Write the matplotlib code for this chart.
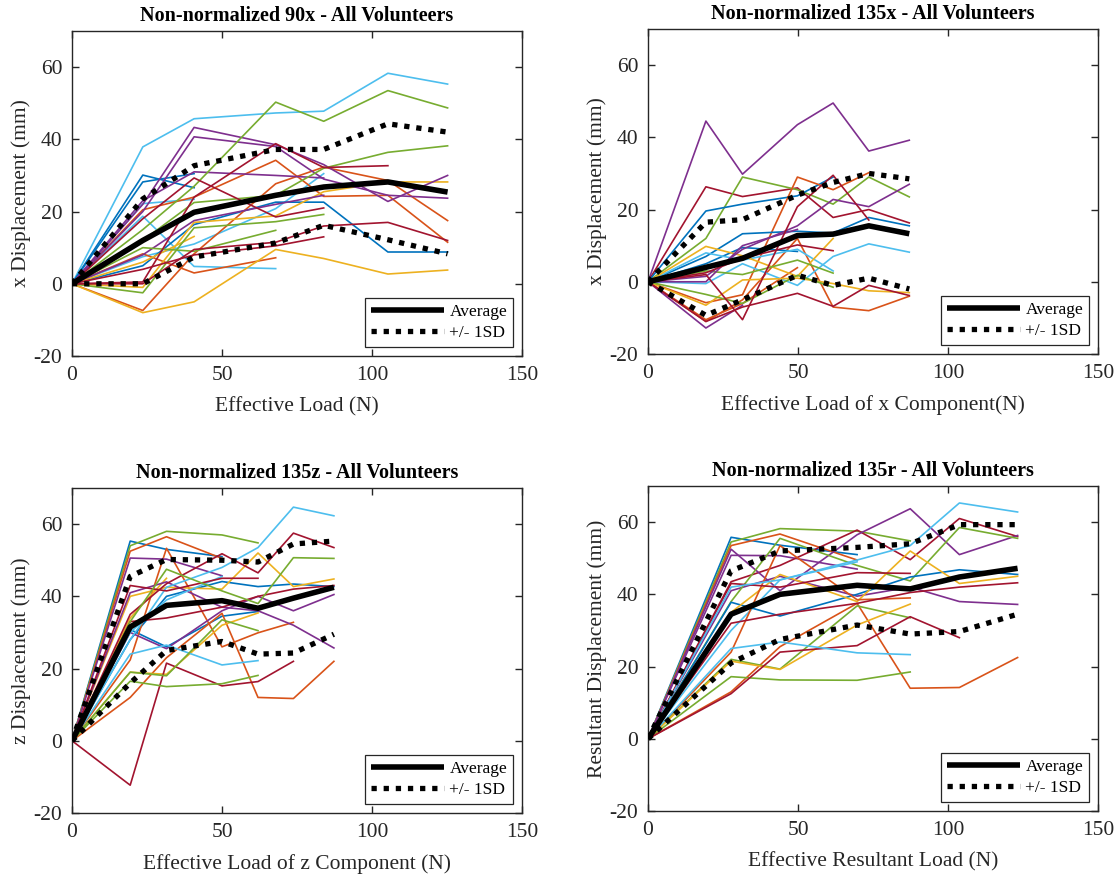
import matplotlib
matplotlib.use("Agg")
import matplotlib.pyplot as plt

plt.rcParams["font.family"] = ["Liberation Serif", "DejaVu Serif"]
plt.rcParams["axes.unicode_minus"] = False

# MATLAB default line colours
PALETTE = {
    "b": (0.000, 0.447, 0.741),
    "o": (0.850, 0.325, 0.098),
    "y": (0.929, 0.694, 0.125),
    "p": (0.494, 0.184, 0.556),
    "g": (0.466, 0.674, 0.188),
    "c": (0.301, 0.745, 0.933),
    "r": (0.635, 0.078, 0.184),
}

# ---- 90x: x displacement vs effective load ----
load_90x = [0, 23.6, 40.7, 67.9, 83.9, 105.3, 125.2]
disp_90x = [
    [0, 37.9, 45.7, 47.3, 47.8, 58.3, 55.3],
    [0, 18.7, 4.8, 4.2],
    [0, 7.5, 11.0, 20.8, 30.5],
    [0, 22.2, 23.4],
    [0, 30.1, 26.6],
    [0, 28.2, 30.5],
    [0, 5.0, 16.4, 22.6, 22.6, 8.8, 8.8],
    [0, -7.4, 8.3, 27.7, 32.3, 28.6, 17.5],
    [0, 20.5, 24.0, 34.2, 24.2, 24.5, 11.5],
    [0, 8.3, 3.0, 7.2],
    [0, -8.0, -5.0, 9.5, 7.0, 2.7, 3.8],
    [0, 6.0, 13.1],
    [0, -1.0, 17.0, 18.8, 25.5, 28.2, 28.2],
    [0, 22.0, 43.3, 38.5, 33.0, 22.8, 30.0],
    [0, 20.0, 40.7, 38.0, 29.0, 24.5, 23.7],
    [0, 23.0, 31.0, 30.0, 29.3],
    [0, 8.0, 17.5, 22.0, 24.5],
    [0, 15.0, 27.0, 50.3, 45.0, 53.5, 48.7],
    [0, -2.5, 15.5, 17.2, 19.2],
    [0, 10.0, 9.0, 14.8],
    [0, 12.0, 22.5, 24.5, 32.0, 36.4, 38.2],
    [0, 18.0, 29.3, 18.5, 21.0],
    [0, 0.5, 24.0, 38.8, 32.2, 32.7],
    [0, 0.0, 9.5, 11.5, 16.0, 17.0, 12.0],
    [0, 4.0, 8.0, 10.5, 13.0],
]
colors_90x = "ccccbbboooyyyppppggggrrrr"
avg_90x = [0, 12.0, 19.8, 24.5, 26.8, 28.2, 25.4]
upper_90x = [0, 23.5, 32.7, 37.2, 37.2, 44.3, 42.0]
lower_90x = [0, 0.0, 7.4, 11.3, 16.2, 12.2, 8.3]

# ---- 135x: x displacement vs x component of load ----
load_135x = [0, 19.3, 31.5, 49.8, 61.7, 73.6, 87.1]
disp_135x = [
    [0, 44.5, 29.8, 43.5, 49.5, 36.2, 39.2],
    [0, 26.3, 23.6, 26.0, 17.8, 20.0, 16.3],
    [0, 12.0, 29.0, 25.5, 21.5, 29.0, 23.5],
    [0, 19.6, 21.5, 23.8, 29.0],
    [0, -5.8, -3.6, 29.0, 25.5, 30.2],
    [0, -10.5, -6.0, 3.9],
    [0, -11.0, -5.0, 12.0, -7.0, -8.0, -4.0],
    [0, 7.0, 13.3, 14.0, 13.5, 17.8, 15.5],
    [0, 5.0, 9.5, 8.4],
    [0, -0.5, 5.0, -1.0, 7.0, 10.5, 8.2],
    [0, 8.0, 6.0, 9.0, 3.0],
    [0, 9.8, 7.2, 1.5, 12.0],
    [0, -6.5, 0.5, 1.0, -0.5, -2.5, -3.0],
    [0, 3.0, 2.0, 6.0, 2.4],
    [0, -3.5, -6.0, 1.8, -1.5],
    [0, 1.5, 9.0, 15.5, 22.8, 20.8, 27.0],
    [0, -12.8, -6.5],
    [0, 0.0, 10.0, 14.5],
    [0, 2.0, -10.5, 20.8, 29.5, 17.1],
    [0, -11.0, -7.0, -3.2, -6.8, -1.0, -3.8],
    [0, 2.5, 6.5, 10.2, 8.6],
]
colors_135x = "prgbooobbccyyggppprrr"
avg_135x = [0, 4.0, 6.5, 12.8, 13.2, 15.5, 13.3]
upper_135x = [0, 16.5, 17.2, 24.0, 27.5, 30.0, 28.5]
lower_135x = [0, -9.3, -5.0, 1.8, -1.0, 1.0, -2.0]

# ---- 135z: z displacement vs z component of load ----
load_135z = [0, 19.4, 31.5, 50.0, 62.0, 73.8, 87.3]
disp_135z = [
    [0, 55.3, 53.0, 51.0],
    [0, 28.0, 40.0, 44.1, 42.7, 43.4, 42.7],
    [0, 30.8, 26.0, 34.5, 35.8],
    [0, 54.0, 58.0, 57.0, 54.8],
    [0, 52.5, 56.5, 50.5],
    [0, 22.4, 53.3, 26.0, 29.9, 32.8],
    [0, 12.0, 23.0, 35.3, 12.0, 11.7, 22.0],
    [0, 34.0, 45.0],
    [0, 40.0, 42.5, 42.0, 52.0, 42.7, 44.8],
    [0, 19.0, 18.4, 32.0, 35.4],
    [0, 50.6, 50.3, 45.7],
    [0, 41.0, 44.0, 37.0, 36.0, 32.0, 25.7],
    [0, 30.0, 25.5, 36.0, 40.0, 36.0, 40.5],
    [0, 24.0, 26.5, 21.0, 22.2],
    [0, 28.0, 42.5, 48.0, 53.5, 64.7, 62.3],
    [0, 30.0, 39.0, 45.5],
    [0, -12.3, 21.5, 15.2, 16.4, 22.0],
    [0, 43.0, 41.5, 45.0, 45.0],
    [0, 33.0, 34.0, 37.0, 40.0, 42.0, 43.0],
    [0, 35.0, 43.5, 51.8, 46.5, 57.5, 53.5],
    [0, 33.0, 47.5, 41.5, 38.0, 50.7, 50.5],
    [0, 19.0, 18.0, 33.5, 30.5],
    [0, 16.5, 15.0, 15.8, 18.1],
]
colors_135z = "bbbgoooyyypppcccrrrrggg"
avg_135z = [0, 31.5, 37.5, 38.8, 36.7, 39.5, 42.5]
upper_135z = [0, 45.5, 50.2, 50.0, 49.5, 54.5, 55.3]
lower_135z = [0, 16.0, 25.0, 27.5, 24.0, 24.3, 29.5]

# ---- 135r: resultant displacement vs resultant load ----
load_135r = [0, 27.7, 44.0, 69.7, 87.4, 103.8, 123.2]
disp_135r = [
    [0, 55.8, 53.6, 51.0],
    [0, 54.5, 58.2, 57.5, 54.8],
    [0, 53.5, 56.7, 49.5],
    [0, 50.8, 50.7, 47.0],
    [0, 43.5, 48.0, 57.8, 49.6, 61.0, 56.0],
    [0, 52.5, 41.0, 56.5, 63.7, 51.0, 56.3],
    [0, 41.0, 45.0, 39.5, 42.0, 38.0, 37.2],
    [0, 38.0, 55.5, 48.0, 43.7, 58.5, 55.5],
    [0, 30.0, 44.0, 49.5, 53.5, 65.3, 62.8],
    [0, 37.8, 34.0, 40.0, 44.8, 46.8, 45.5],
    [0, 35.0, 45.5, 38.0, 52.0, 43.0, 45.0],
    [0, 24.0, 53.5, 38.5, 39.0],
    [0, 13.0, 25.5, 37.5, 14.0, 14.2, 22.5],
    [0, 22.0, 19.3, 36.8, 33.5],
    [0, 17.2, 16.3, 16.2, 18.5],
    [0, 21.5, 19.2, 31.5, 37.3],
    [0, 12.5, 24.0, 25.8, 33.8, 28.0],
    [0, 32.0, 34.5, 37.5, 40.5, 42.0, 43.2],
    [0, 43.0, 42.0, 46.0, 45.8],
    [0, 25.0, 26.8, 23.8, 23.3],
    [0, 42.0, 44.0, 49.0],
]
colors_135r = "bgoprppgcbyooggyrrrcc"
avg_135r = [0, 34.5, 40.0, 42.5, 41.5, 44.8, 47.2]
upper_135r = [0, 46.5, 52.0, 53.0, 54.0, 59.3, 59.3]
lower_135r = [0, 21.0, 27.5, 31.5, 29.0, 29.7, 34.5]

panels = [
    ("Non-normalized 90x - All Volunteers", "Effective Load (N)", "x Displacement (mm)",
     load_90x, disp_90x, colors_90x, avg_90x, upper_90x, lower_90x,
     [72 / 1118, (875 - 356) / 875]),
    ("Non-normalized 135x - All Volunteers", "Effective Load of x Component(N)", "x Displacement (mm)",
     load_135x, disp_135x, colors_135x, avg_135x, upper_135x, lower_135x,
     [648 / 1118, (875 - 354) / 875]),
    ("Non-normalized 135z - All Volunteers", "Effective Load of z Component (N)", "z Displacement (mm)",
     load_135z, disp_135z, colors_135z, avg_135z, upper_135z, lower_135z,
     [72 / 1118, (875 - 813) / 875]),
    ("Non-normalized 135r - All Volunteers", "Effective Resultant Load (N)", "Resultant Displacement (mm)",
     load_135r, disp_135r, colors_135r, avg_135r, upper_135r, lower_135r,
     [648 / 1118, (875 - 811) / 875]),
]

fig = plt.figure(figsize=(11.18, 8.75), dpi=100)

for title, xlabel, ylabel, load, disp, colors, avg, upper, lower, (left, bottom) in panels:
    ax = fig.add_axes([left, bottom, 450 / 1118, 325 / 875])
    for row, c in zip(disp, colors):
        ax.plot(load[:len(row)], row, color=PALETTE[c], lw=1.2, zorder=2)
    ax.plot(load, avg, color="black", lw=4.0, solid_capstyle="butt", zorder=4, label="Average")
    ax.plot(load, upper, color="black", lw=3.8, ls=(0, (1, 1.3)), dash_capstyle="butt",
            zorder=3, label="+/- 1SD")
    ax.plot(load, lower, color="black", lw=3.8, ls=(0, (1, 1.3)), dash_capstyle="butt", zorder=3)

    ax.set_xlim(0, 150)
    ax.set_ylim(-20, 70)
    ax.set_xticks([0, 50, 100, 150])
    ax.set_yticks([-20, 0, 20, 40, 60])
    ax.tick_params(direction="in", length=5, width=1, top=True, right=True,
                   labelsize=15.5, colors="#262626", labelcolor="#262626", pad=7)
    for s in ax.spines.values():
        s.set_linewidth(1.0)
        s.set_color("#262626")
    ax.set_title(title, fontsize=14.5, fontweight="bold", pad=7)
    ax.set_xlabel(xlabel, fontsize=15.5, color="#262626", labelpad=9)
    ax.set_ylabel(ylabel, fontsize=15.5, color="#262626", labelpad=2)

    leg = ax.legend(loc="lower right", fontsize=12.5, frameon=True, fancybox=False,
                    edgecolor="#262626", framealpha=1, handlelength=4.2,
                    borderaxespad=0.5, borderpad=0.35, labelspacing=0.3, handletextpad=0.3)
    leg.get_frame().set_linewidth(0.9)

fig.savefig("out.png", dpi=100)
